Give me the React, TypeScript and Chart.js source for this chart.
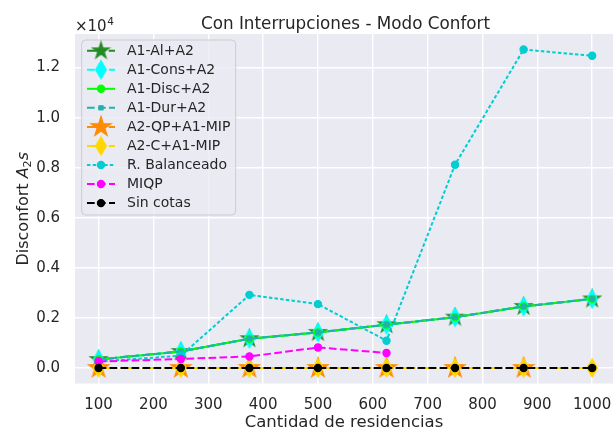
import React, { useEffect, useRef } from "react";
import { Chart, registerables } from "chart.js";

Chart.register(...registerables);

// ---- data ----
const residencias = [100, 250, 375, 500, 625, 750, 875, 1000];
const a1AlA2 = [340, 660, 1170, 1420, 1730, 2030, 2460, 2760];
const a1ConsA2 = [340, 660, 1170, 1420, 1730, 2030, 2460, 2760];
const a1DiscA2 = [340, 660, 1170, 1420, 1730, 2030, 2460, 2760];
const a1DurA2 = [340, 660, 1170, 1420, 1730, 2030, 2460, 2760];
const a2QpA1Mip = [0, 0, 0, 0, 0, 0, 0];
const a2CA1Mip = [0, 0, 0, 0, 0, 0, 0, 0];
const rBalanceado = [260, 490, 2920, 2550, 1090, 8120, 12720, 12470];
const miqp = [260, 360, 460, 820, 600];
const sinCotas = [0, 0, 0, 0, 0, 0, 0, 0];

const seriesLabels = [
  "A1-Al+A2",
  "A1-Cons+A2",
  "A1-Disc+A2",
  "A1-Dur+A2",
  "A2-QP+A1-MIP",
  "A2-C+A1-MIP",
  "R. Balanceado",
  "MIQP",
  "Sin cotas",
];
const seriesValues = [a1AlA2, a1ConsA2, a1DiscA2, a1DurA2, a2QpA1Mip, a2CA1Mip, rBalanceado, miqp, sinCotas];

const xTickValues = [100, 200, 300, 400, 500, 600, 700, 800, 900, 1000];
const yTickValues = [0, 2000, 4000, 6000, 8000, 10000, 12000];

const titleText = "Con Interrupciones - Modo Confort";
const xTitleText = "Cantidad de residencias";

// ---- styles ----
const DASHDOT = [13, 3.3, 2.1, 3.3];
const DASHED = [7.7, 3.3];
const DOTTED = [3.5, 2.2];
const seriesStyles = [
  { color: "#228B22", dash: DASHDOT, marker: "star", size: 8.4 },
  { color: "#00FFFF", dash: DASHED, marker: "diamond", size: 8.8 },
  { color: "#00FF00", dash: [] as number[], marker: "circle", size: 3.6 },
  { color: "#20B2AA", dash: DASHED, marker: "rect", size: 3 },
  { color: "#FF8C00", dash: DASHDOT, marker: "star", size: 10.2 },
  { color: "#FFD700", dash: DASHDOT, marker: "diamond", size: 8.8 },
  { color: "#00CED1", dash: DOTTED, marker: "circle", size: 3.6 },
  { color: "#FF00FF", dash: DASHED, marker: "circle", size: 3.6 },
  { color: "#000000", dash: DASHED, marker: "circle", size: 3.6 },
];

const FONT = "'DejaVu Sans', sans-serif";
const TEXT = "#262626";

function starCanvas(R: number, color: string) {
  const lw = 1.4;
  const s = Math.ceil(2 * R + lw + 2);
  const c = document.createElement("canvas");
  c.width = s;
  c.height = s;
  const g = c.getContext("2d")!;
  const cx = s / 2;
  const cy = s / 2;
  g.beginPath();
  for (let k = 0; k < 10; k++) {
    const a = -Math.PI / 2 + (k * Math.PI) / 5;
    const r = k % 2 === 0 ? R : R * 0.381966;
    g.lineTo(cx + r * Math.cos(a), cy + r * Math.sin(a));
  }
  g.closePath();
  g.fillStyle = color;
  g.fill();
  g.lineWidth = lw;
  g.strokeStyle = color;
  g.lineJoin = "miter";
  g.stroke();
  return c;
}

function diamondCanvas(hh: number, color: string) {
  const lw = 1.4;
  const hw = hh * 0.6;
  const w = Math.ceil(2 * hw + lw + 2);
  const h = Math.ceil(2 * hh + lw + 2);
  const c = document.createElement("canvas");
  c.width = w;
  c.height = h;
  const g = c.getContext("2d")!;
  const cx = w / 2;
  const cy = h / 2;
  g.beginPath();
  g.moveTo(cx, cy - hh);
  g.lineTo(cx + hw, cy);
  g.lineTo(cx, cy + hh);
  g.lineTo(cx - hw, cy);
  g.closePath();
  g.fillStyle = color;
  g.fill();
  g.lineWidth = lw;
  g.strokeStyle = color;
  g.stroke();
  return c;
}

export default function App() {
  const ref = useRef<HTMLCanvasElement>(null);

  useEffect(() => {
    document.body.style.margin = "0";
    const canvas = ref.current!;

    const images: (HTMLCanvasElement | null)[] = seriesStyles.map((st) =>
      st.marker === "star"
        ? starCanvas(st.size, st.color)
        : st.marker === "diamond"
        ? diamondCanvas(st.size, st.color)
        : null
    );

    const n = seriesLabels.length;
    const datasets = seriesLabels.map((label, i) => {
      const st = seriesStyles[i];
      const img = images[i];
      return {
        label,
        data: seriesValues[i].map((v, j) => ({ x: residencias[j], y: v })),
        borderColor: st.color,
        backgroundColor: st.color,
        borderWidth: 2,
        borderDash: st.dash,
        borderCapStyle: "butt" as const,
        tension: 0,
        fill: false,
        pointStyle: img ? img : st.marker,
        pointRadius: img ? 5 : st.size,
        pointHoverRadius: img ? 5 : st.size,
        pointBorderWidth: 1.2,
        pointBackgroundColor: st.color,
        pointBorderColor: st.color,
        order: n - 1 - i,
        clip: false as any,
      };
    });

    const bgPlugin = {
      id: "bg",
      beforeDraw(chart: any) {
        const { ctx, chartArea: a } = chart;
        ctx.save();
        ctx.fillStyle = "#ffffff";
        ctx.fillRect(0, 0, chart.width, chart.height);
        ctx.fillStyle = "#EAEAF2";
        ctx.fillRect(a.left, a.top, a.right - a.left, a.bottom - a.top);
        ctx.restore();
      },
    };

    const overlayPlugin = {
      id: "overlay",
      afterDraw(chart: any) {
        const { ctx, chartArea: a } = chart;
        ctx.save();
        // title
        ctx.fillStyle = TEXT;
        ctx.font = `16.8px ${FONT}`;
        ctx.textAlign = "center";
        ctx.textBaseline = "alphabetic";
        ctx.fillText(titleText, 345.5, 28.7);

        // offset text x10^4
        ctx.textAlign = "left";
        ctx.font = `15px ${FONT}`;
        ctx.fillText("\u00d710", a.left, 30.5);
        const w10 = ctx.measureText("\u00d710").width;
        ctx.font = `10.5px ${FONT}`;
        ctx.fillText("4", a.left + w10 + 0.5, 24.5);

        // y label
        const big = `16px ${FONT}`;
        const ital = `oblique 16px ${FONT}`;
        const small = `11.2px ${FONT}`;
        const parts = [
          { t: "Disconfort ", f: big, dy: 0 },
          { t: "A", f: ital, dy: 0 },
          { t: "2", f: small, dy: 3 },
          { t: "s", f: ital, dy: 0 },
        ];
        let total = 0;
        parts.forEach((p) => {
          ctx.font = p.f;
          total += ctx.measureText(p.t).width;
        });
        const cy = (a.top + a.bottom) / 2;
        ctx.translate(28, cy + total / 2);
        ctx.rotate(-Math.PI / 2);
        let px = 0;
        parts.forEach((p) => {
          ctx.font = p.f;
          ctx.fillText(p.t, px, p.dy);
          px += ctx.measureText(p.t).width;
        });
        ctx.setTransform(1, 0, 0, 1, 0, 0);

        // legend
        const bx = 81.7, by = 40, bw = 154, bh = 175, rr = 4;
        ctx.beginPath();
        ctx.moveTo(bx + rr, by);
        ctx.lineTo(bx + bw - rr, by);
        ctx.arcTo(bx + bw, by, bx + bw, by + rr, rr);
        ctx.lineTo(bx + bw, by + bh - rr);
        ctx.arcTo(bx + bw, by + bh, bx + bw - rr, by + bh, rr);
        ctx.lineTo(bx + rr, by + bh);
        ctx.arcTo(bx, by + bh, bx, by + bh - rr, rr);
        ctx.lineTo(bx, by + rr);
        ctx.arcTo(bx, by, bx + rr, by, rr);
        ctx.closePath();
        ctx.fillStyle = "rgba(234,234,242,0.8)";
        ctx.fill();
        ctx.strokeStyle = "#CCCCCC";
        ctx.lineWidth = 1;
        ctx.stroke();

        seriesLabels.forEach((label, i) => {
          const st = seriesStyles[i];
          const ry = 50.7 + i * 19.05;
          ctx.beginPath();
          ctx.setLineDash(st.dash);
          ctx.lineDashOffset = 0;
          ctx.strokeStyle = st.color;
          ctx.lineWidth = 2;
          ctx.lineCap = "butt";
          ctx.moveTo(87, ry);
          ctx.lineTo(115, ry);
          ctx.stroke();
          ctx.setLineDash([]);
          const img = images[i];
          const mx = 101;
          if (img) {
            ctx.drawImage(img, mx - img.width / 2, ry - img.height / 2);
          } else if (st.marker === "circle") {
            ctx.beginPath();
            ctx.arc(mx, ry, st.size, 0, Math.PI * 2);
            ctx.fillStyle = st.color;
            ctx.fill();
            ctx.lineWidth = 1.2;
            ctx.strokeStyle = st.color;
            ctx.stroke();
          } else {
            const s = st.size * Math.SQRT1_2;
            ctx.fillStyle = st.color;
            ctx.fillRect(mx - s, ry - s, 2 * s, 2 * s);
            ctx.lineWidth = 1;
            ctx.strokeStyle = st.color;
            ctx.strokeRect(mx - s, ry - s, 2 * s, 2 * s);
          }
          ctx.fillStyle = TEXT;
          ctx.font = `14px ${FONT}`;
          ctx.textAlign = "left";
          ctx.textBaseline = "middle";
          ctx.fillText(label, 127, ry + 0.5);
        });
        ctx.restore();
      },
    };

    const chart = new Chart(canvas, {
      type: "line",
      data: { datasets: datasets as any },
      options: {
        responsive: false,
        animation: false,
        devicePixelRatio: 1,
        layout: { autoPadding: false, padding: { top: 34, left: 0, right: 0, bottom: 0 } },
        plugins: {
          legend: { display: false },
          title: { display: false },
          tooltip: { enabled: false },
        },
        scales: {
          x: {
            type: "linear",
            min: 57,
            max: 1038,
            afterBuildTicks: (s: any) => {
              s.ticks = xTickValues.map((v) => ({ value: v }));
            },
            afterFit: (s: any) => {
              s.height = 46.5;
              s.paddingLeft = 0;
              s.paddingRight = 0;
            },
            grid: { color: "#ffffff", lineWidth: 1.4, drawTicks: false },
            border: { display: false },
            ticks: {
              padding: 13,
              color: TEXT,
              font: { family: FONT, size: 15 },
              autoSkip: false,
              maxRotation: 0,
              callback: (v: any) => String(v),
            },
            title: {
              display: true,
              text: xTitleText,
              color: TEXT,
              font: { family: FONT, size: 16.5 },
              padding: { top: 0, bottom: -3 },
            },
          },
          y: {
            type: "linear",
            min: -620,
            max: 13340,
            afterBuildTicks: (s: any) => {
              s.ticks = yTickValues.map((v) => ({ value: v }));
            },
            afterFit: (s: any) => {
              s.width = 75;
              s.paddingTop = 0;
              s.paddingBottom = 0;
            },
            grid: { color: "#ffffff", lineWidth: 1.4, drawTicks: false },
            border: { display: false },
            ticks: {
              padding: 15,
              color: TEXT,
              font: { family: FONT, size: 15 },
              callback: (v: any) => (Number(v) / 10000).toFixed(1),
            },
          },
        },
      },
      plugins: [bgPlugin, overlayPlugin],
    });

    return () => chart.destroy();
  }, []);

  return (
    <div style={{ width: 613, height: 430 }}>
      <canvas ref={ref} width={613} height={430} style={{ display: "block" }} />
    </div>
  );
}
